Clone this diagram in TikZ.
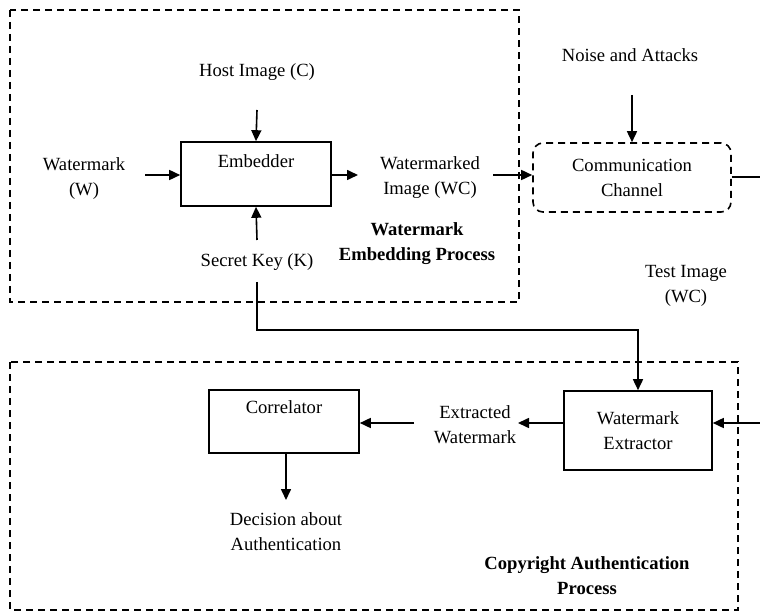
\documentclass[tikz,border=0pt]{standalone}
\usepackage{fontspec}
\setmainfont{Liberation Serif}
\usetikzlibrary{arrows.meta,calc}
\begin{document}
\begin{tikzpicture}[x=1pt,y=-1pt,
  every node/.style={font=\fontsize{18.6}{25}\selectfont, align=center, inner sep=0pt},
  proc/.style={draw, line width=1.6pt, minimum width=#1, text width=#1},
  ttl/.style={font=\fontsize{18.6}{25}\selectfont\bfseries},
  arr/.style={line width=1.6pt, -{Triangle[length=11pt,width=10pt]}},
  wire/.style={line width=1.6pt},
  frame/.style={line width=1.6pt, dash pattern=on 7pt off 5pt}]
\useasboundingbox (0,0) rectangle (760,612);

% process frames
\draw[frame] (10,10) rectangle (519,302);
\draw[frame] (10,362) rectangle (738,610);

% blocks
\node[proc=150pt, minimum height=64pt] (emb) at (256,174) {Embedder\\[-7pt]\strut};
\node[draw, line width=1.6pt, dash pattern=on 7pt off 5pt, rounded corners=10pt,
      minimum width=198pt, minimum height=69pt] (chan) at (632,177.5) {Communication\\Channel};
\node[proc=148pt, minimum height=79pt] (ext) at (638,430.5) {Watermark\\Extractor};
\node[proc=150pt, minimum height=63pt] (corr) at (284,421.5) {Correlator\\[-4pt]\strut};

% labels
\node (host) at (257,72) {Host Image (C)};
\node (wm) at (84,178.5) {Watermark\\(W)};
\node (wc) at (430,178) {Watermarked\\Image (WC)};
\node (noise) at (630,55) {Noise and Attacks};
\node (test) at (686,286) {Test Image\\(WC)};
\node[ttl] (wep) at (417,244) {Watermark\\Embedding Process};
\node (key) at (257,262) {Secret Key (K)};
\node (xw) at (475,424.5) {Extracted\\Watermark};
\node (dec) at (286,532) {Decision about\\Authentication};
\node[ttl] (cap) at (587,576) {Copyright Authentication\\Process};

% connector ends
\coordinate (wmout) at (145,175);
\coordinate (hostout) at (257,110);
\coordinate (embout) at (358,175);
\coordinate (wcout) at (493,175);
\coordinate (noiseout) at (632,95);
\coordinate (chanend) at (760,177);
\coordinate (keyin) at (257,240);
\coordinate (keyout) at (257,282);
\coordinate (bend1) at (257,330);
\coordinate (bend2) at (638,330);
\coordinate (testin) at (760,423);
\coordinate (extout) at (518,423);
\coordinate (xwout) at (414,423);
\coordinate (decin) at (286,500);

% connectors
\draw[arr] (wmout) -- (wmout -| emb.west);
\draw[arr] (hostout) -- (emb.north);
\draw[arr] (keyin) -- (emb.south);
\draw[arr] (emb.east |- embout) -- (embout);
\draw[arr] (wcout) -- (wcout -| chan.west);
\draw[arr] (noiseout) -- (noiseout |- chan.north);
\draw[wire] (chan.east |- chanend) -- (chanend);
\draw[arr] (keyout) -- (bend1) -- (bend2) -- (ext.north);
\draw[arr] (testin) -- (testin -| ext.east);
\draw[arr] (ext.west |- extout) -- (extout);
\draw[arr] (xwout) -- (xwout -| corr.east);
\draw[arr] (decin |- corr.south) -- (decin);
\end{tikzpicture}
\end{document}
